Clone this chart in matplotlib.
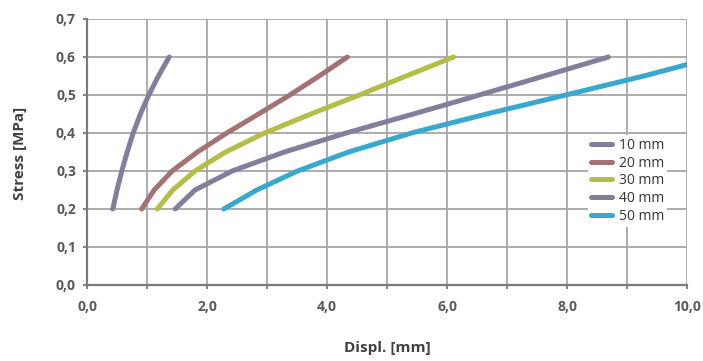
#!/usr/bin/env python3
"""Stress vs displacement curves for five sample thicknesses."""

import matplotlib

matplotlib.use("Agg")
import matplotlib.pyplot as plt
from matplotlib.ticker import FuncFormatter, MultipleLocator

# stress levels (MPa) at which displacement was read
STRESS = [0.20, 0.25, 0.30, 0.35, 0.40, 0.45, 0.50, 0.55, 0.60]
STRESS_50 = [0.20, 0.25, 0.30, 0.35, 0.40, 0.45, 0.50, 0.55, 0.58]

# displacement (mm) per series
DISPL_10 = [0.43, 0.50, 0.58, 0.67, 0.77, 0.89, 1.03, 1.19, 1.37]
DISPL_20 = [0.91, 1.12, 1.42, 1.84, 2.33, 2.86, 3.38, 3.87, 4.34]
DISPL_30 = [1.17, 1.43, 1.80, 2.31, 2.96, 3.73, 4.54, 5.32, 6.11]
DISPL_40 = [1.47, 1.80, 2.42, 3.29, 4.32, 5.44, 6.54, 7.62, 8.69]
DISPL_50 = [2.28, 2.83, 3.51, 4.36, 5.41, 6.66, 7.98, 9.28, 10.0]

LABELS = ["10 mm", "20 mm", "30 mm", "40 mm", "50 mm"]
COLORS = ["#817f9c", "#a47272", "#b3bd48", "#817f9c", "#38a8cf"]

TEXT_COLOR = "#595959"
FONT = ["Open Sans", "DejaVu Sans"]


def comma(v, _pos):
    return f"{v:.1f}".replace(".", ",")


def main() -> None:
    plt.rcParams["font.family"] = FONT
    fig = plt.figure(figsize=(7.03, 3.61), dpi=100)
    ax = fig.add_axes([87 / 703, 76 / 361, 600 / 703, 266 / 361])

    series = [
        (DISPL_10, STRESS),
        (DISPL_20, STRESS),
        (DISPL_30, STRESS),
        (DISPL_40, STRESS),
        (DISPL_50, STRESS_50),
    ]
    for (xs, ys), label, color in zip(series, LABELS, COLORS):
        ax.plot(xs, ys, color=color, linewidth=3.6, solid_capstyle="round",
                solid_joinstyle="round", label=label, zorder=3)

    ax.set_xlim(0, 10)
    ax.set_ylim(0, 0.7)
    ax.xaxis.set_major_locator(MultipleLocator(2))
    ax.xaxis.set_minor_locator(MultipleLocator(1))
    ax.yaxis.set_major_locator(MultipleLocator(0.1))
    ax.xaxis.set_major_formatter(FuncFormatter(comma))
    ax.yaxis.set_major_formatter(FuncFormatter(comma))

    ax.grid(True, which="both", color="#a6a6a6", linewidth=1.3, zorder=0)
    ax.set_axisbelow(True)
    for side in ("top", "right"):
        ax.spines[side].set_visible(False)
    for side in ("left", "bottom"):
        ax.spines[side].set_color("#7a7a7a")
        ax.spines[side].set_linewidth(1.6)

    ax.tick_params(which="both", direction="out", length=3, width=1.3,
                   color="#7a7a7a")
    ax.tick_params(axis="x", which="major", pad=8)
    ax.tick_params(axis="y", which="major", pad=5)
    for lab in ax.get_xticklabels() + ax.get_yticklabels():
        lab.set_fontsize(10)
        lab.set_fontweight("bold")
        lab.set_color(TEXT_COLOR)

    fig.text(20 / 703, 1 - 153 / 361, "Stress [MPa]", rotation=90,
             ha="center", va="center", fontsize=11, fontweight="bold",
             color="#404040")
    fig.text(387 / 703, 1 - 348 / 361, "Displ. [mm]", ha="center",
             va="center", fontsize=11, fontweight="bold", color="#404040")

    leg = ax.legend(loc="upper left", bbox_to_anchor=(588 / 703, 1 - 135 / 361),
                    bbox_transform=fig.transFigure, frameon=True,
                    fontsize=10, handlelength=1.5, handletextpad=0.55,
                    labelspacing=0.2, borderpad=0.2, borderaxespad=0)
    leg.get_frame().set_facecolor("white")
    leg.get_frame().set_edgecolor("none")
    leg.get_frame().set_alpha(1)
    for text in leg.get_texts():
        text.set_color("#333333")

    fig.savefig("out.png", dpi=100)
    plt.close(fig)


if __name__ == "__main__":
    main()
